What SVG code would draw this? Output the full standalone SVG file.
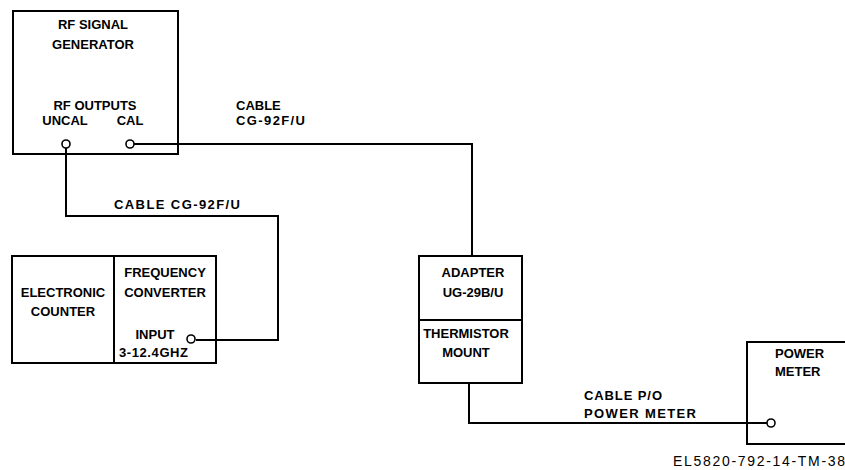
<svg xmlns="http://www.w3.org/2000/svg" width="845" height="470" viewBox="0 0 845 470">
<style>
.box{fill:none;stroke:#000;stroke-width:2}
.wire{fill:none;stroke:#000;stroke-width:2}
.port{fill:#fff;stroke:#000;stroke-width:1.6}
text{font-family:"Liberation Sans",Arial,sans-serif;font-weight:bold;font-size:13px;fill:#000}
.m{text-anchor:middle}
</style>
<rect width="845" height="470" fill="#fff"/>
<g id="connectors">
<path class="wire" d="M134,144 H472 V256"/>
<path class="wire" d="M66,148 V216 H278 V340 H196"/>
<path class="wire" d="M469,383 V423 H767"/>
<text x="236" y="110">CABLE</text>
<text x="236" y="125" textLength="69" lengthAdjust="spacing">CG-92F/U</text>
<text x="114" y="209" textLength="126" lengthAdjust="spacing">CABLE CG-92F/U</text>
<text x="584" y="400" textLength="78" lengthAdjust="spacing">CABLE P/O</text>
<text x="584" y="418" textLength="112" lengthAdjust="spacing">POWER METER</text>
</g>
<g id="rf-signal-generator">
<rect class="box" x="13" y="11" width="165" height="143"/>
<text class="m" x="93" y="29">RF SIGNAL</text>
<text class="m" x="93" y="49">GENERATOR</text>
<text class="m" x="95" y="110">RF OUTPUTS</text>
<text class="m" x="65" y="125">UNCAL</text>
<text class="m" x="130" y="125">CAL</text>
<circle class="port" cx="66" cy="144" r="4"/>
<circle class="port" cx="130" cy="144" r="4"/>
</g>
<g id="electronic-counter">
<rect class="box" x="12" y="256" width="204" height="107"/>
<line class="box" x1="114" y1="256" x2="114" y2="363"/>
<text class="m" x="63" y="297">ELECTRONIC</text>
<text class="m" x="63" y="316">COUNTER</text>
</g>
<g id="frequency-converter">
<text class="m" x="165" y="277">FREQUENCY</text>
<text class="m" x="165" y="297">CONVERTER</text>
<text class="m" x="155" y="339">INPUT</text>
<text x="119" y="357" textLength="69" lengthAdjust="spacing">3-12.4GHZ</text>
<circle class="port" cx="191" cy="339" r="4"/>
</g>
<g id="adapter">
<rect class="box" x="419" y="256" width="103" height="127"/>
<line class="box" x1="419" y1="320" x2="522" y2="320"/>
<text class="m" x="473" y="277">ADAPTER</text>
<text class="m" x="473" y="297">UG-29B/U</text>
</g>
<g id="thermistor-mount">
<text class="m" x="466" y="338">THERMISTOR</text>
<text class="m" x="466" y="357">MOUNT</text>
</g>
<g id="power-meter">
<path class="box" d="M850,342 H747 V444 H850"/>
<text x="775" y="358">POWER</text>
<text x="775" y="376">METER</text>
<circle class="port" cx="771" cy="423" r="4"/>
</g>
<text x="673" y="466" textLength="172" lengthAdjust="spacing" style="font-weight:normal;font-size:14px">EL5820-792-14-TM-38</text>
</svg>
